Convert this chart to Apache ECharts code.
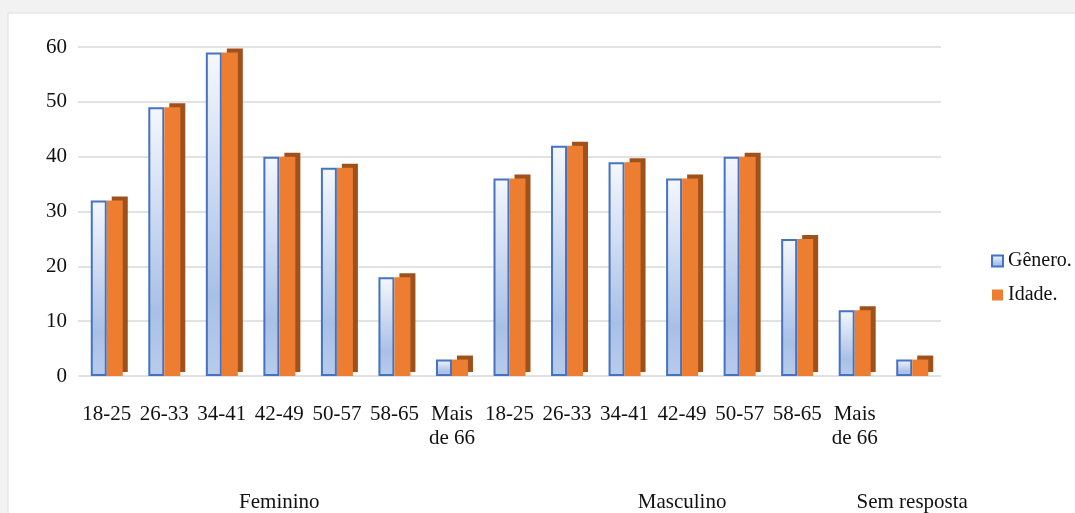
<!DOCTYPE html>
<html><head><meta charset="utf-8">
<script src="https://cdn.jsdelivr.net/npm/echarts@6/dist/echarts.min.js"></script>
<style>html,body{margin:0;padding:0;background:#f2f2f2}#c{width:1075px;height:513px}</style>
</head><body><div id="c"></div>
<script>
const categories = ['18-25','26-33','34-41','42-49','50-57','58-65','Mais\nde 66','18-25','26-33','34-41','42-49','50-57','58-65','Mais\nde 66',''];
const groups = ['Feminino','Masculino','Sem resposta'];
const groupSizes = [7, 7, 1];
const generoValues = [32,49,59,40,38,18,3,36,42,39,36,40,25,12,3];
const idadeValues = [32,49,59,40,38,18,3,36,42,39,36,40,25,12,3];
const yTicks = [0,10,20,30,40,50,60];

// group label row: put each group name at the middle category of its group
const groupRow = [];
groups.forEach((g, gi) => {
  const n = groupSizes[gi];
  for (let i = 0; i < n; i++) groupRow.push(i === Math.floor(n / 2) ? g : '');
});

const font = 'Liberation Serif';
const chart = echarts.init(document.getElementById('c'), null, {renderer:'canvas'});
chart.setOption({
  backgroundColor: '#f2f2f2',
  animation: false,
  graphic: [{type:'rect', shape:{x:8,y:13,width:1080,height:510}, style:{fill:'#ffffff', stroke:'#dedede', lineWidth:1}, z:-10}],
  grid: {left: 78, top: 47, width: 863, height: 330},
  legend: {
    orient: 'vertical', left: 986, top: 246, itemGap: 14,
    itemWidth: 11, itemHeight: 11, icon: 'rect',
    textStyle: {fontFamily: font, fontSize: 20, color: '#111'},
    data: ['Gênero.', 'Idade.']
  },
  xAxis: [{
    type: 'category', data: categories,
    axisLine: {show:false}, axisTick: {show:false},
    axisLabel: {interval:0, fontFamily: font, fontSize: 21, color:'#111', margin: 26, lineHeight: 24}
  }, {
    type: 'category', data: groupRow, position: 'bottom',
    axisLine: {show:false}, axisTick: {show:false},
    axisLabel: {interval:0, fontFamily: font, fontSize: 21, color:'#111', margin: 116}
  }],
  yAxis: {
    type: 'value', min: 0, max: yTicks[yTicks.length-1], interval: 10,
    axisLine: {show:false}, axisTick: {show:false},
    axisLabel: {fontFamily: font, fontSize: 21, color:'#111', margin: 11},
    splitLine: {lineStyle: {color:'#d9d9d9', width: 1.5}}
  },
  series: [{
    name: 'Gênero.', type: 'bar', data: generoValues, barWidth: 16, barGap: '0%',
    itemStyle: {
      color: new echarts.graphic.LinearGradient(0,0,0,1,[{offset:0,color:'#f5f8fd'},{offset:0.75,color:'#a9c0e6'},{offset:1,color:'#b8cbec'}]),
      borderColor: '#4472c4', borderWidth: 2
    }
  }, {
    name: 'Idade.', type: 'bar', data: idadeValues, barWidth: 16,
    itemStyle: {
      color: '#ed7d31',
      shadowColor: '#9e511b', shadowOffsetX: 5, shadowOffsetY: -4, shadowBlur: 0
    }
  }]
});
</script></body></html>
